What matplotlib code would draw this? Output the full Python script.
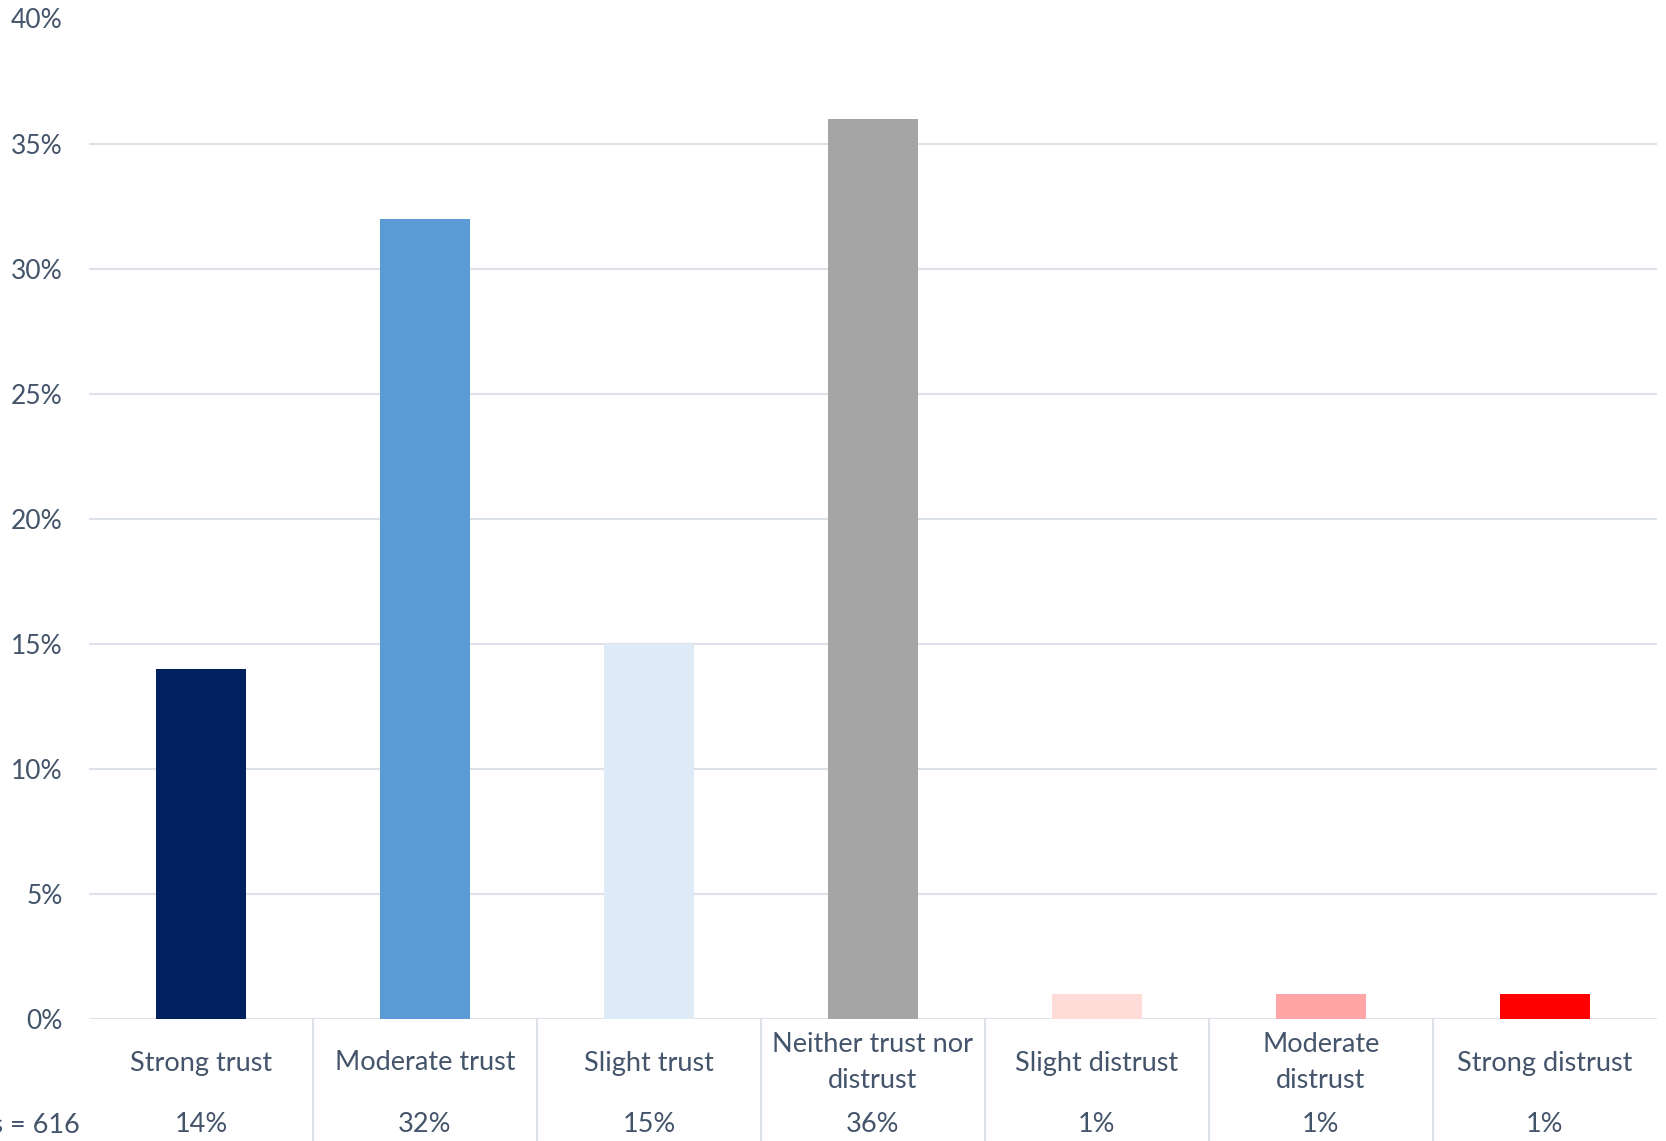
import matplotlib.pyplot as plt
from matplotlib.ticker import PercentFormatter

# Data
categories = ["Strong trust", "Moderate trust", "Slight trust", "Neither trust nor\ndistrust",
              "Slight distrust", "Moderate\ndistrust", "Strong distrust"]
values = [14, 32, 15, 36, 1, 1, 1]
n_label = "Responses = 616"
colors = ["#002060", "#5B9BD5", "#DEEBF7", "#A5A5A5", "#FFDCD8", "#FFA5A5", "#FF0000"]

text_color = "#44546A"
line_color = "#DDE1E8"
plt.rcParams['font.family'] = ['Lato', 'DejaVu Sans']

W, H = 1666, 1141
fig = plt.figure(figsize=(W / 100, H / 100), dpi=100)
left, right, top, bottom = 89, 1657, 18.5, 1019
ax = fig.add_axes([left / W, 1 - bottom / H, (right - left) / W, (bottom - top) / H])

x = list(range(len(categories)))
ax.bar(x, values, width=0.4, color=colors, zorder=3)

ax.set_xlim(-0.5, len(categories) - 0.5)
ax.set_ylim(0, 40)
ax.set_yticks(range(0, 41, 5))
ax.yaxis.set_major_formatter(PercentFormatter(decimals=0))
ax.tick_params(axis='y', length=0, pad=19, labelsize=19, labelcolor=text_color)
ax.set_xticks([])
ax.grid(axis='y', color=line_color, linewidth=1.5, zorder=0)
for s in ax.spines.values():
    s.set_visible(False)

# table under the chart
trans = ax.get_xaxis_transform()
axh = bottom - top
y_cat = -(1063 - bottom) / axh
y_val = -(1125 - bottom) / axh
y_end = -(H - bottom) / axh
for i, (cat, v) in enumerate(zip(categories, values)):
    ax.text(i, y_cat, cat, transform=trans, ha='center', va='center', fontsize=19.5,
            color=text_color, linespacing=1.55)
    ax.text(i, y_val, f"{v}%", transform=trans, ha='center', va='center', fontsize=19.5,
            color=text_color)
for i in range(1, len(categories)):
    ax.plot([i - 0.5, i - 0.5], [0, y_end], transform=trans, color=line_color,
            linewidth=1.5, clip_on=False)
fig.text(80 / W, 1 - 1125 / H, n_label, ha='right', va='center', fontsize=19.5, color=text_color)

fig.savefig("out.png", dpi=100)
